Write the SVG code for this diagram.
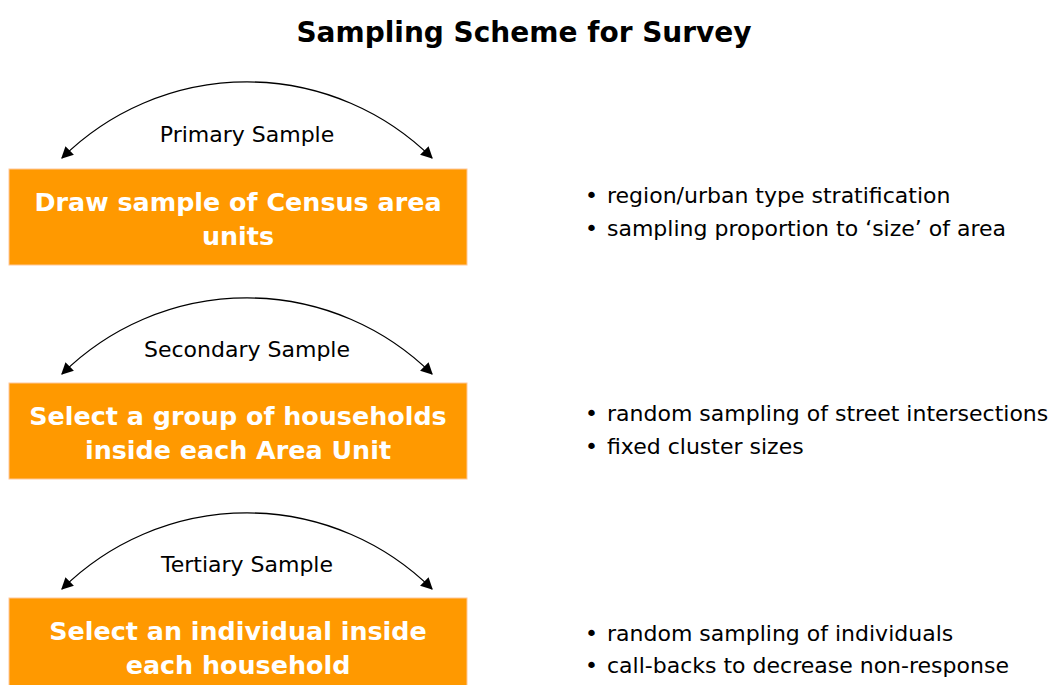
<svg xmlns="http://www.w3.org/2000/svg" width="1053" height="685" viewBox="0 0 1053 685">
  <style>
    .title { font-family: "DejaVu Sans", Verdana, sans-serif; font-weight: bold; font-size: 28px; fill: #000; }
    .box { fill: #FF9900; stroke: #FFC89A; stroke-width: 1; }
    .boxtext { font-family: "DejaVu Sans", Verdana, sans-serif; font-weight: bold; font-size: 25.4px; fill: #fff; text-anchor: middle; }
    .label { font-family: "DejaVu Sans", Verdana, sans-serif; font-size: 22px; fill: #000; text-anchor: middle; }
    .bullet { font-family: "DejaVu Sans", Verdana, sans-serif; font-size: 22px; fill: #000; }
    .arc { fill: none; stroke: #000; stroke-width: 1.3; marker-start: url(#head); marker-end: url(#head); }
  </style>
  <defs>
    <marker id="head" viewBox="0 0 10 10" refX="9" refY="5" markerWidth="12" markerHeight="12" markerUnits="userSpaceOnUse" orient="auto-start-reverse">
      <path d="M0,0 L10,5 L0,10 z" fill="#000"/>
    </marker>
  </defs>

  <text class="title" x="524" y="42" text-anchor="middle">Sampling Scheme for Survey</text>

  <!-- stage arcs -->
  <g id="connectors">
    <path class="arc" d="M62,158 A263,263 0 0 1 432,158"/>
    <path class="arc" d="M62,374 A263,263 0 0 1 432,374"/>
    <path class="arc" d="M62,589 A263,263 0 0 1 432,589"/>
  </g>

  <g id="primary">
    <text class="label" x="247" y="142">Primary Sample</text>
    <rect class="box" x="9" y="169" width="458" height="96"/>
    <text class="boxtext" x="238" y="211">Draw sample of Census area</text>
    <text class="boxtext" x="238" y="245">units</text>
    <text class="bullet" x="585" y="203">•</text>
    <text class="bullet" x="607" y="203">region/urban type stratification</text>
    <text class="bullet" x="585" y="236">•</text>
    <text class="bullet" x="607" y="236">sampling proportion to ‘size’ of area</text>
  </g>

  <g id="secondary">
    <text class="label" x="247" y="357">Secondary Sample</text>
    <rect class="box" x="9" y="383" width="458" height="96"/>
    <text class="boxtext" x="238" y="425">Select a group of households</text>
    <text class="boxtext" x="238" y="459">inside each Area Unit</text>
    <text class="bullet" x="585" y="421">•</text>
    <text class="bullet" x="607" y="421">random sampling of street intersections</text>
    <text class="bullet" x="585" y="454">•</text>
    <text class="bullet" x="607" y="454">fixed cluster sizes</text>
  </g>

  <g id="tertiary">
    <text class="label" x="247" y="572">Tertiary Sample</text>
    <rect class="box" x="9" y="598" width="458" height="96"/>
    <text class="boxtext" x="238" y="640">Select an individual inside</text>
    <text class="boxtext" x="238" y="674">each household</text>
    <text class="bullet" x="585" y="641">•</text>
    <text class="bullet" x="607" y="641">random sampling of individuals</text>
    <text class="bullet" x="585" y="673">•</text>
    <text class="bullet" x="607" y="673">call-backs to decrease non-response</text>
  </g>
</svg>
